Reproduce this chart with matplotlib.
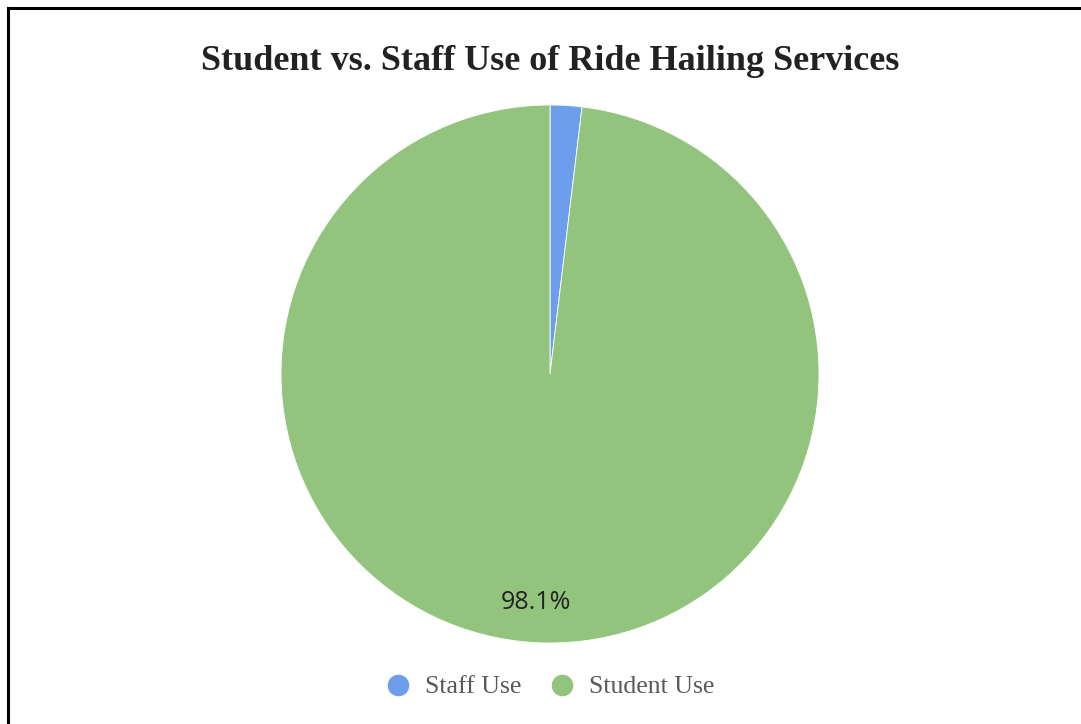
import matplotlib.pyplot as plt
from matplotlib.lines import Line2D

# 数据
labels = ['Staff Use', 'Student Use']
shares = [1.9, 98.1]
colors = ['#6d9eeb', '#93c47d']
title = 'Student vs. Staff Use of Ride Hailing Services'

W, H = 1081, 724
fig = plt.figure(figsize=(W / 100, H / 100), dpi=100)

# 饼图位置 (像素 -> 比例)
cx, cy, r = 550, 374, 269
ax = fig.add_axes([(cx - r) / W, (H - cy - r) / H, 2 * r / W, 2 * r / H])


def fmt_pct(p):
    return f'{p:.1f}%' if p > 5 else ''


wedges, _, autotexts = ax.pie(shares, colors=colors, startangle=90, counterclock=False,
                              autopct=fmt_pct, pctdistance=0.85, radius=1,
                              wedgeprops={'edgecolor': 'white', 'linewidth': 0.6},
                              textprops={'family': 'Open Sans', 'size': 18, 'color': '#222222'})
ax.set_xlim(-1, 1)
ax.set_ylim(-1, 1)
ax.set_aspect('equal')

fig.text(550 / W, 1 - 61 / H, title, ha='center', va='center',
         family='Liberation Serif', weight='semibold', size=26, color='#222222')

# 图例
handles = [Line2D([], [], marker='o', linestyle='none', markersize=14.5, color=c) for c in colors]
fig.legend(handles, labels, loc='center', bbox_to_anchor=(550 / W, 1 - 687 / H), ncol=2,
           frameon=False, prop={'family': 'Liberation Serif', 'size': 18.5},
           labelcolor='#595959', handlelength=1.0, handletextpad=0.55, columnspacing=1.1)

# 边框 (左、上)
fig.add_artist(Line2D([8 / W, 8 / W], [0, 1 - 8 / H], color='black', linewidth=2.2,
                      transform=fig.transFigure))
fig.add_artist(Line2D([8 / W, 1], [1 - 8 / H, 1 - 8 / H], color='black', linewidth=2.2,
                      transform=fig.transFigure))

fig.savefig('out.png', dpi=100)
